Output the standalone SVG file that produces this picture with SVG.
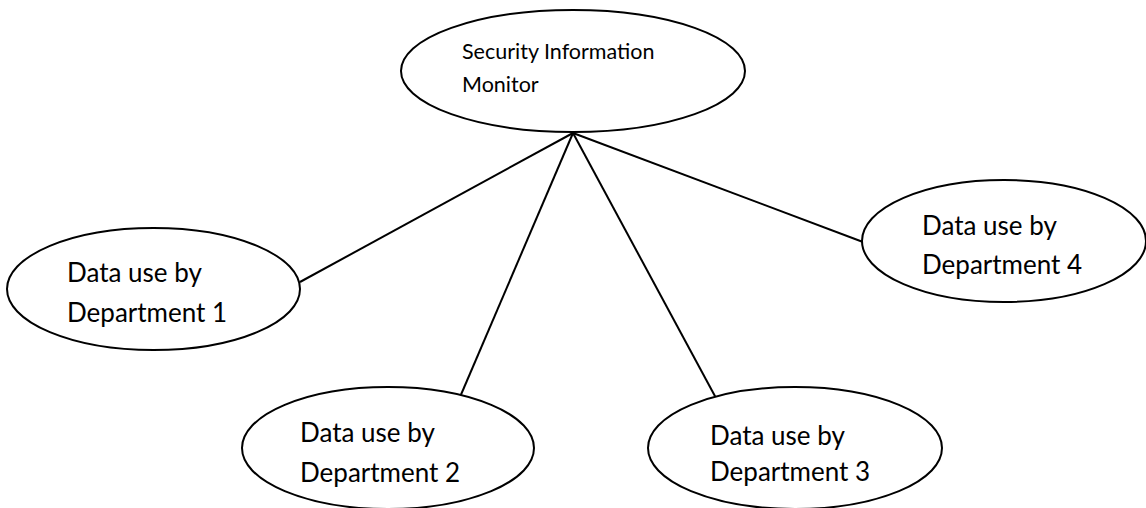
<svg xmlns="http://www.w3.org/2000/svg" width="1146" height="508" viewBox="0 0 1146 508">
<style>
.node ellipse{fill:#fff;stroke:#000;stroke-width:2}
.conn line{stroke:#000;stroke-width:2}
text{font-family:Lato,"Open Sans","Liberation Sans",sans-serif;fill:#000}
.t1{font-size:21.5px}
.t2{font-size:26px}
</style>
<rect width="1146" height="508" fill="#fff"/>
<g id="connectors" class="conn">
<line x1="573" y1="133" x2="300" y2="282"/>
<line x1="573" y1="133" x2="460" y2="397"/>
<line x1="573" y1="133" x2="716" y2="398"/>
<line x1="573" y1="133" x2="863" y2="242"/>
</g>
<g id="monitor" class="node">
<ellipse cx="573" cy="71" rx="172" ry="61"/>
<text class="t1" x="462" y="59">Security Information</text>
<text class="t1" x="462" y="92">Monitor</text>
</g>
<g id="dept1" class="node">
<ellipse cx="153.5" cy="289" rx="146.5" ry="61"/>
<text class="t2" x="67" y="282">Data use by</text>
<text class="t2" x="67" y="322">Department 1</text>
</g>
<g id="dept2" class="node">
<ellipse cx="388" cy="448" rx="146" ry="61"/>
<text class="t2" x="300" y="442">Data use by</text>
<text class="t2" x="300" y="482">Department 2</text>
</g>
<g id="dept3" class="node">
<ellipse cx="795" cy="448" rx="147" ry="61"/>
<text class="t2" x="710" y="445">Data use by</text>
<text class="t2" x="710" y="481">Department 3</text>
</g>
<g id="dept4" class="node">
<ellipse cx="1004" cy="241" rx="142" ry="61"/>
<text class="t2" x="922" y="235">Data use by</text>
<text class="t2" x="922" y="274">Department 4</text>
</g>
</svg>
